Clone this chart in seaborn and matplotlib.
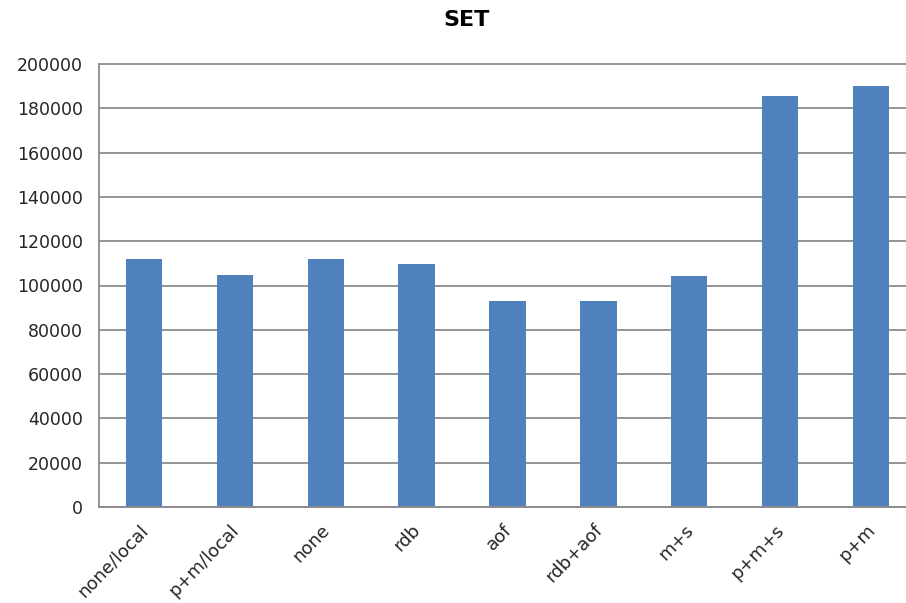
import matplotlib
matplotlib.use("Agg")
import matplotlib.pyplot as plt
import matplotlib.transforms as mtransforms
import seaborn as sns
import pandas as pd
import numpy as np
from matplotlib.ticker import FixedLocator

categories = ["none/local", "p+m/local", "none", "rdb", "aof", "rdb+aof", "m+s", "p+m+s", "p+m"]
values = [111800, 104900, 111800, 109700, 92900, 92900, 104150, 185450, 190000]
y_ticks = [0, 20000, 40000, 60000, 80000, 100000, 120000, 140000, 160000, 180000, 200000]
title = "SET"

sns.set_style("white")
plt.rcParams["font.family"] = ["DejaVu Sans"]

df = pd.DataFrame({"config": categories, "ops": values})

fig = plt.figure(figsize=(9.06, 6.03), dpi=100)
ax = fig.add_axes([98.5 / 906, 1 - 507 / 603, 818 / 906, (507 - 64) / 603])

sns.barplot(data=df, x="config", y="ops", color="#4F81BD", width=0.40,
            saturation=1, ax=ax, edgecolor="none")

ax.set_ylim(0, 200000)
ax.set_xlim(-0.5, len(categories) - 0.5)
ax.set_yticks(y_ticks)
ax.set_yticklabels([str(t) for t in y_ticks], fontsize=12.5, color="#262626")
ax.yaxis.grid(True, color="#8c8c8c", linewidth=1.3)
ax.set_axisbelow(True)
ax.set_xlabel("")
ax.set_ylabel("")
for gl in ax.get_ygridlines():
    gl.set_clip_on(False)

for s in ["top", "right"]:
    ax.spines[s].set_visible(False)
for s in ["left", "bottom"]:
    ax.spines[s].set_color("#8c8c8c")
    ax.spines[s].set_linewidth(1.3)

ax.tick_params(axis="y", length=5, color="#8c8c8c", width=1.3, pad=6)
ax.tick_params(axis="x", which="major", length=0, pad=10)
ax.xaxis.set_minor_locator(FixedLocator(np.arange(-0.5, len(categories), 1.0)))
ax.tick_params(axis="x", which="minor", length=6, color="#8c8c8c", width=1.3)

ax.set_xticks(range(len(categories)))
ax.set_xticklabels(categories, rotation=46, ha="right", rotation_mode="anchor",
                   fontsize=13, color="#262626")
offset = mtransforms.ScaledTranslation(-5 / 100, 0, fig.dpi_scale_trans)
for lbl in ax.get_xticklabels():
    lbl.set_transform(lbl.get_transform() + offset)

fig.text(466.5 / 906, 1 - 20 / 603, title, ha="center", va="center",
         fontsize=16, fontweight="bold", color="#000000")

fig.savefig("out.png", dpi=100)
